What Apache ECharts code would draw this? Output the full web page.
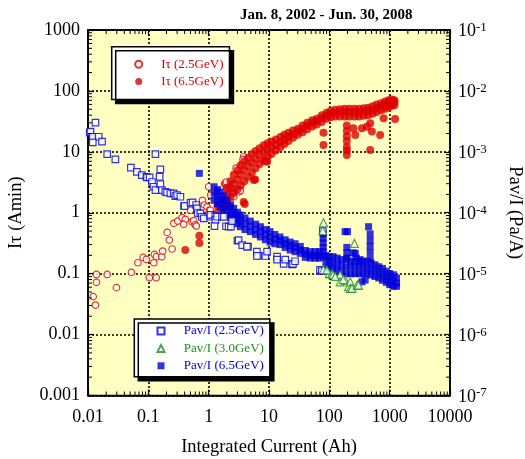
<!DOCTYPE html>
<html><head><meta charset="utf-8">
<script src="https://cdn.jsdelivr.net/npm/echarts@6/dist/echarts.min.js"></script>
<style>html,body{margin:0;padding:0;background:#fff}#c{width:525px;height:459px}</style>
</head><body><div id="c"></div>
<script>
// ---------- tick labels ----------
const xTickLabels = ['0.01','0.1','1','10','100','1000','10000'];
const leftTickLabels = ['0.001','0.01','0.1','1','10','100','1000'];
const rightTickExponents = ['-7','-6','-5','-4','-3','-2','-1'];

// ---------- series names ----------
const names = ['Iτ (2.5GeV)','Iτ (6.5GeV)','Pav/I (2.5GeV)','Pav/I (3.0GeV)','Pav/I (6.5GeV)'];

// ---------- Iτ (2.5GeV) [Ah, A·min] ----------
const itau25 = [[0.0122,0.042],[0.0133,0.0305],[0.0138,0.097],[0.0138,0.072],[0.0208,0.097],[0.0296,0.059],
[0.0525,0.105],[0.067,0.151],[0.082,0.185],[0.093,0.171],[0.104,0.086],[0.135,0.086],[0.123,0.151],[0.126,0.207],
[0.136,0.19],[0.167,0.19],[0.173,0.235],[0.205,0.476],[0.223,0.356],[0.248,0.254],[0.264,0.67],[0.307,0.73],
[0.363,0.83],[0.41,0.78],[0.386,0.645],[0.53,0.71],[0.565,0.74],[0.6,0.63],[0.625,0.605],[0.5,1.1],[0.79,1.6],
[0.85,1.34],[0.94,1.25],[1.03,1.1],[0.73,0.99],[1.07,1.1],[1.08,1.95],[1.0,2.67],[1.84,2.96],[1.94,2.96],[1.89,3.04],
[1.99,2.08],[2.14,2.36],[2.44,2.08],[3.14,2.36],[2.6,1.83],[2.84,5.4],[3.2,2.2],[3.66,6.5],[3.8,8.3],[3.7,7.5],
[1.96,3.2],[3.35,2.3]];

// ---------- Iτ (6.5GeV) [Ah, A·min] ----------
const itau65 = [[0.41,0.244],[0.70,0.42],[0.70,0.32],[3.95,1.39],[2.28,1.25],[3.8,1.5],[5.6,3.44],[5.9,3.5],
[8.7,7.06],[9.3,6.9],[80,20.6],[80,12.9],[195,27],[195,22],[195,18],[195,15],[195,12],[195,10.5],[195,8.9],
[251,24.3],[269,18.9],[347,24.3],[475,10.7],[507,21.5],[696,18.9],[795,35.5],[1230,34.6],[475,29.4],[419,25.8],
[1.4,1.0],[1.4,1.3],[1.7,1.2],[1.7,1.6],[2.0,1.45],[2.0,2.0],[2.0,2.6],[2.3,1.8],[2.3,2.5],[2.3,3.3],
[2.6,2.1],[2.6,3.0],[2.6,4.2],[3.0,2.4],[3.0,3.5],[3.0,5.0],[3.4,2.8],[3.4,4.2],[3.4,6.0],[3.9,3.3],[3.9,5.0],[3.9,7.0],
[4.5,3.9],[4.5,5.8],[4.5,8.0],[5.2,4.6],[5.2,6.7],[5.2,9.2],[6.0,5.4],[6.0,7.6],[6.0,10.3],[7.0,6.3],[7.0,8.7],[7.0,11.5],
[8.2,7.3],[8.2,9.8],[8.2,12.8],[9.5,8.2],[9.5,11],[9.5,13.8],[11,9.2],[11,12],[11,14.8],[13,10.5],[13,13],[13,16],
[15.5,12],[15.5,14.5],[15.5,17.5],[18,13.5],[18,16],[18,19],[21,15],[21,17.5],[21,20.5],[25,17],[25,19.5],[25,22.5],
[30,19],[30,21.5],[30,24],[36,21],[36,24],[36,27],[43,23.5],[43,27],[43,30],[52,26],[52,30],[52,33],
[62,28],[62,32],[62,35],[75,31],[75,36],[75,40],[90,35],[90,40],[90,44],[105,37],[105,42],[105,47],
[125,38],[125,44],[125,49],[150,38],[150,45],[150,50],[180,38],[180,45],[180,51],[215,38],[215,45],[215,51],
[260,38],[260,45],[260,51],[310,38],[310,45],[310,51],[370,39],[370,46],[370,52],[440,40],[440,47],[440,53],
[520,42],[520,49],[520,56],[610,45],[610,52],[610,60],[720,48],[720,56],[720,63],[840,51],[840,59],[840,67],
[960,54],[960,62],[960,70],[1080,57],[1080,64],[1080,72],[1200,58],[1200,65],[1200,70]];

// ---------- Pav/I (2.5GeV) [Ah, Pa/A] ----------
const pav25 = [[0.0133,3.01e-3],[0.0107,2.06e-3],[0.011,2.14e-3],[0.012,1.77e-3],[0.0150,1.77e-3],[0.012,1.43e-3],
[0.0171,1.47e-3],[0.0208,9.2e-4],[0.0284,7.5e-4],[0.131,9.2e-4],[0.0514,5.5e-4],[0.0646,4.7e-4],[0.078,4.16e-4],
[0.093,3.9e-4],[0.095,3.8e-4],[0.105,3.8e-4],[0.158,5.17e-4],[0.154,3.9e-4],[0.115,3.2e-4],[0.122,2.67e-4],
[0.131,2.36e-4],[0.158,2.96e-4],[0.168,2.36e-4],[0.191,2.2e-4],[0.205,2.15e-4],[0.232,2.08e-4],[0.264,2.08e-4],
[0.28,1.88e-4],[0.30,1.95e-4],[0.34,1.83e-4],[0.39,1.29e-4],[0.40,1.29e-4],[0.50,1.46e-4],[0.54,1.48e-4],
[0.62,1.34e-4],[0.64,1.18e-4],[0.66,9.9e-5],[0.73,9.8e-5],[0.77,8.6e-5],[0.83,8.1e-5],[1.07,8.6e-5],[1.07,9.2e-5],
[1.29,8.8e-5],[1.29,7.6e-5],[1.38,8.6e-5],[1.67,8.6e-5],[1.79,8.6e-5],[1.25,6.05e-5],[1.94,6.0e-5],[2.14,5.9e-5],
[2.34,5.9e-5],[2.44,7.3e-5],[3.0,3.47e-5],[3.14,3.56e-5],[3.6,2.95e-5],[4.5,2.77e-5],[4.3,2.77e-5],[6.3,2.3e-5],
[6.7,1.97e-5],[6.3,1.95e-5],[8.7,1.95e-5],[9.3,2.3e-5],[13.6,1.9e-5],[13.6,1.7e-5],[17.5,1.45e-5],[18.6,1.7e-5],
[24,1.42e-5],[25,1.45e-5],[27,1.6e-5],[70,1.15e-5],[75,1.1e-5],[78,5.0e-5]];

// ---------- Pav/I (3.0GeV) [Ah, Pa/A] ----------
const pav30 = [[80,6.85e-5],[78,5.06e-5],[261,3.14e-5],[80,1.17e-5],[100,1.0e-5],[110,1.0e-5],[115,9.6e-6],
[151,9.6e-6],[151,7.36e-6],[183,7.85e-6],[208,6.1e-6],[222,7.36e-6],[222,5.75e-6],[237,5.75e-6],[291,6.5e-6],
[304,6.5e-6],[91,1.15e-5],[125,9.0e-6],[170,8.0e-6]];

// ---------- Pav/I (6.5GeV) [Ah, Pa/A] ----------
const pav65 = [[1.23,2.67e-4],[1.23,2.1e-4],[1.23,1.6e-4],[1.4,2.4e-4],[1.4,1.85e-4],[1.4,1.4e-4],
[1.56,2.2e-4],[1.56,1.65e-4],[1.56,1.25e-4],[1.75,1.9e-4],[1.75,1.45e-4],[1.75,1.1e-4],[2.0,1.6e-4],[2.0,1.2e-4],[2.0,9.2e-5],
[2.3,1.35e-4],[2.3,1.05e-4],[2.3,8.3e-5],[2.6,1.18e-4],[2.6,9.5e-5],[2.6,7.6e-5],[3.0,1.02e-4],[3.0,8.2e-5],[3.0,6.6e-5],
[3.35,9.2e-5],[3.35,7.4e-5],[3.35,5.9e-5],[4.0,8.2e-5],[4.0,6.6e-5],[4.0,5.3e-5],[4.9,7.3e-5],[4.9,6.0e-5],[4.9,4.9e-5],
[6.0,6.5e-5],[6.0,5.3e-5],[6.0,4.4e-5],[7.2,5.9e-5],[7.2,4.9e-5],[7.2,4.0e-5],[8.7,5.3e-5],[8.7,4.4e-5],[8.7,3.6e-5],
[10.4,4.9e-5],[10.4,4.0e-5],[10.4,3.3e-5],[12.5,4.4e-5],[12.5,3.7e-5],[12.5,3.1e-5],[15.2,4.0e-5],[15.2,3.5e-5],[15.2,3.0e-5],
[18.5,3.6e-5],[18.5,3.1e-5],[18.5,2.7e-5],[22.4,3.3e-5],[22.4,2.9e-5],[22.4,2.45e-5],[27,3.1e-5],[27,2.7e-5],[27,2.3e-5],
[33,2.8e-5],[33,2.45e-5],[33,2.15e-5],[40,2.4e-5],[40,2.1e-5],[40,1.85e-5],[48,2.3e-5],[48,2.0e-5],[48,1.8e-5],
[58,2.3e-5],[58,2.0e-5],[58,1.8e-5],[68,2.3e-5],[68,2.0e-5],[68,1.8e-5],
[79,4.5e-5],[79,3.8e-5],[79,3.2e-5],[79,2.7e-5],[79,2.3e-5],[79,1.9e-5],
[88,2.0e-5],[88,1.6e-5],[88,1.25e-5],[100,1.9e-5],[100,1.55e-5],[100,1.2e-5],[115,1.9e-5],[115,1.5e-5],[115,1.2e-5],
[135,1.8e-5],[135,1.4e-5],[135,1.1e-5],[160,1.7e-5],[160,1.35e-5],[160,1.05e-5],[190,1.7e-5],[190,1.3e-5],[190,1.0e-5],
[225,1.6e-5],[225,1.3e-5],[225,1.0e-5],[265,1.6e-5],[265,1.3e-5],[265,1.0e-5],[310,1.6e-5],[310,1.3e-5],[310,1.0e-5],
[360,1.6e-5],[360,1.3e-5],[360,1.0e-5],[420,1.6e-5],[420,1.25e-5],[420,1.0e-5],[490,1.5e-5],[490,1.2e-5],[490,9.5e-6],
[570,1.4e-5],[570,1.15e-5],[570,9.0e-6],[660,1.3e-5],[660,1.05e-5],[660,8.5e-6],[760,1.22e-5],[760,9.7e-6],[760,7.8e-6],
[880,1.1e-5],[880,9.0e-6],[880,7.2e-6],[1000,1.0e-5],[1000,8.0e-6],[1000,6.6e-6],[1150,9.6e-6],[1150,7.5e-6],[1150,6.2e-6],
[1300,8.5e-6],[1300,7.0e-6],[1300,6.2e-6],
[183,4.9e-5],[200,4.9e-5],[195,2.7e-5],[195,2.2e-5],[195,1.8e-5],[250,2.2e-5],[269,2.15e-5],[280,1.8e-5],[323,1.7e-5],
[447,5.9e-5],[475,4.5e-5],[475,3.5e-5],[475,2.8e-5],[475,2.2e-5],[475,1.7e-5],[393,7.85e-6],[347,7.36e-6],[0.70,4.43e-4]];

// ---------- styling ----------
const FONT = '"Liberation Serif","Times New Roman",serif';
const RED = '#dd0000', BLUE = '#0000dd', GREEN = '#1f8f1f';
const decIndex = v => Math.round(Math.log10(v));

const chart = echarts.init(document.getElementById('c'), null, {renderer: 'canvas'});
const axisCommon = {
  type: 'log', logBase: 10,
  axisLine: {show: true, onZero: false, lineStyle: {color: '#000', width: 1.5}},
  axisTick: {show: true, inside: true, length: 6, lineStyle: {color: '#000', width: 1.2}},
  minorTick: {show: false},
};
const legendCommon = {
  orient: 'vertical', itemWidth: 7, itemHeight: 7, itemGap: 3.4,
  backgroundColor: '#fff', borderColor: '#000', borderWidth: 1.5,
  shadowColor: '#000', shadowOffsetX: 4, shadowOffsetY: 4, shadowBlur: 0, selectedMode: false
};
const option = {
  animation: false,
  backgroundColor: '#fff',
  title: {text: 'Jan. 8, 2002 - Jun. 30, 2008', left: 240, top: 8, padding: 0,
    textStyle: {fontFamily: FONT, fontSize: 15, fontWeight: 'bold', color: '#000'}},
  grid: {left: 88, top: 30, width: 362, height: 365.5, show: true, backgroundColor: '#ffffc2',
    borderColor: '#000', borderWidth: 1.5, containLabel: false, outerBoundsMode: 'none'},
  legend: [
    Object.assign({}, legendCommon, {
      data: [{name: names[0], textStyle: {color: RED}}, {name: names[1], textStyle: {color: RED}}],
      left: 111.7, top: 46.7, padding: [10.5, 6, 11, 22.5],
      textStyle: {fontFamily: FONT, fontSize: 13, lineHeight: 14, padding: [0, 0, 0, 14]}}),
    Object.assign({}, legendCommon, {
      data: [{name: names[2], textStyle: {color: BLUE}}, {name: names[3], textStyle: {color: GREEN}}, {name: names[4], textStyle: {color: BLUE}}],
      left: 134.3, top: 319, padding: [5, 6, 4, 22.2],
      textStyle: {fontFamily: FONT, fontSize: 13, lineHeight: 14, padding: [0, 0, 0, 14.2]}})
  ],
  xAxis: [
    Object.assign({}, axisCommon, {position: 'bottom', min: 0.01, max: 10000,
      name: 'Integrated Current (Ah)', nameLocation: 'middle', nameGap: 42,
      nameTextStyle: {fontFamily: FONT, fontSize: 18.5, color: '#000'},
      axisLabel: {margin: 13, fontFamily: FONT, fontSize: 18, color: '#000',
        formatter: v => xTickLabels[decIndex(v) + 2]},
      splitLine: {show: true, lineStyle: {color: '#000', width: 1.6, type: [2, 2]}}}),
    Object.assign({}, axisCommon, {position: 'top', min: 0.01, max: 10000,
      axisLabel: {show: false}, splitLine: {show: false}})
  ],
  yAxis: [
    Object.assign({}, axisCommon, {position: 'left', min: 0.001, max: 1000,
      name: 'Iτ (Amin)', nameLocation: 'middle', nameGap: 62, nameRotate: 90,
      nameTextStyle: {fontFamily: FONT, fontSize: 18.5, color: '#000'},
      axisLabel: {margin: 8, fontFamily: FONT, fontSize: 18, color: '#000',
        formatter: v => leftTickLabels[decIndex(v) + 3]},
      splitLine: {show: true, lineStyle: {color: '#000', width: 1.6, type: [2, 2]}}}),
    Object.assign({}, axisCommon, {position: 'right', min: 1e-7, max: 1e-1,
      name: 'Pav/I (Pa/A)', nameLocation: 'middle', nameGap: 55, nameRotate: -90,
      nameTextStyle: {fontFamily: FONT, fontSize: 18.5, color: '#000'},
      axisLabel: {margin: 8, color: '#000',
        formatter: v => '{b|10}{s|' + rightTickExponents[decIndex(v) + 7] + '}',
        rich: {b: {fontFamily: FONT, fontSize: 18, lineHeight: 18, padding: [3, 0, 0, 0], color: '#000'},
               s: {fontFamily: FONT, fontSize: 13, lineHeight: 13, verticalAlign: 'top', color: '#000'}}},
      splitLine: {show: false}})
  ],
  series: [
    {name: names[0], type: 'scatter', xAxisIndex: 0, yAxisIndex: 0, data: itau25, symbol: 'circle', symbolSize: 6.5,
     itemStyle: {color: '#fff', borderColor: RED, borderWidth: 1.2}, z: 2},
    {name: names[1], type: 'scatter', xAxisIndex: 0, yAxisIndex: 0, data: itau65, symbol: 'circle', symbolSize: 8,
     itemStyle: {color: RED}, z: 3},
    {name: names[4], type: 'scatter', xAxisIndex: 0, yAxisIndex: 1, data: pav65, symbol: 'rect', symbolSize: 7,
     itemStyle: {color: BLUE}, z: 4},
    {name: names[2], type: 'scatter', xAxisIndex: 0, yAxisIndex: 1, data: pav25, symbol: 'rect', symbolSize: 6.5,
     itemStyle: {color: '#fff', borderColor: BLUE, borderWidth: 1.2}, z: 5},
    {name: names[3], type: 'scatter', xAxisIndex: 0, yAxisIndex: 1, data: pav30, symbol: 'triangle', symbolSize: 8,
     itemStyle: {color: '#fff', borderColor: GREEN, borderWidth: 1.2}, z: 6}
  ]
};
chart.setOption(option);

// minor ticks (2..9 × 10^k) on all four frame sides, positioned through the axes' own scales
const xL = chart.convertToPixel({xAxisIndex: 0}, 0.01), xR = chart.convertToPixel({xAxisIndex: 0}, 10000);
const yB = chart.convertToPixel({yAxisIndex: 0}, 0.001), yT = chart.convertToPixel({yAxisIndex: 0}, 1000);
const ML = 4, g = [];
const seg = (x1, y1, x2, y2) => g.push({type: 'line', silent: true, z: 50,
  shape: {x1, y1, x2, y2}, style: {stroke: '#000', lineWidth: 1}});
for (let k = -2; k < 4; k++) for (let m = 2; m < 10; m++) {
  const x = chart.convertToPixel({xAxisIndex: 0}, m * Math.pow(10, k));
  seg(x, yB, x, yB - ML); seg(x, yT, x, yT + ML);
}
for (let k = -3; k < 3; k++) for (let m = 2; m < 10; m++) {
  const y = chart.convertToPixel({yAxisIndex: 0}, m * Math.pow(10, k));
  seg(xL, y, xL + ML, y); seg(xR, y, xR - ML, y);
}
chart.setOption({graphic: g});
</script></body></html>
